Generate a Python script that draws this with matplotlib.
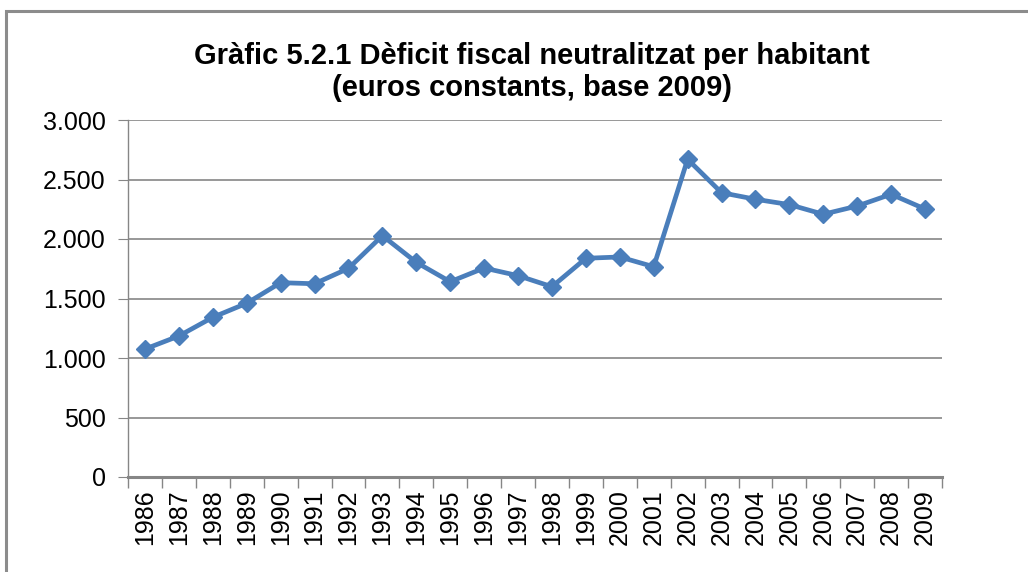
import matplotlib.pyplot as plt
from matplotlib.patches import Rectangle
from matplotlib.ticker import FuncFormatter
import numpy as np

plt.rcParams['font.family'] = ['Liberation Sans', 'DejaVu Sans']

years = [str(y) for y in range(1986, 2010)]
deficit = [1075, 1185, 1342, 1460, 1633, 1624, 1753, 2028, 1804, 1641, 1756, 1692,
           1599, 1838, 1849, 1767, 2670, 2389, 2334, 2289, 2208, 2277, 2376, 2252]

fig = plt.figure(figsize=(10.28, 5.72), dpi=100)
ax = fig.add_axes([128/1028, 1 - 477/572, 814/1028, 357/572])

x = np.arange(len(years))
ax.plot(x, deficit, color='#4a7ebb', lw=3.4, marker='D', ms=9,
        markeredgecolor='#4a7ebb', solid_joinstyle='round')

ax.set_xlim(-0.5, len(years) - 0.5)
ax.set_ylim(0, 3000)
ax.set_yticks(np.arange(0, 3001, 500))
ax.yaxis.set_major_formatter(FuncFormatter(lambda v, p: f'{int(v):,}'.replace(',', '.')))
ax.set_xticks(x)
ax.set_xticklabels(years, rotation=90)
ax.set_xticks(np.arange(-0.5, len(years), 1), minor=True)

ax.grid(axis='y', color='#868686', lw=1.2)
ax.set_axisbelow(True)
for s in ['top', 'right']:
    ax.spines[s].set_visible(False)
ax.spines['left'].set_color('#868686')
ax.spines['left'].set_linewidth(1)
ax.spines['bottom'].set_color('#868686')
ax.spines['bottom'].set_linewidth(2.2)

ax.tick_params(axis='y', length=7, color='#868686', labelsize=18, pad=9)
ax.tick_params(axis='x', which='major', length=0, labelsize=18, pad=9)
ax.tick_params(axis='x', which='minor', length=8, color='#868686', width=1)

fig.text(532/1028, 1 - 72/572,
         'Gràfic 5.2.1 Dèficit fiscal neutralitzat per habitant\n(euros constants, base 2009)',
         ha='center', va='center', fontsize=21, fontweight='bold', linespacing=1.15)

fig.patches.append(Rectangle((6/1028, -0.1), 1.2, 1 - 11/572 + 0.1, transform=fig.transFigure,
                             fill=False, edgecolor='#8c8c8c', lw=2.2))

fig.savefig('out.png', dpi=100)
